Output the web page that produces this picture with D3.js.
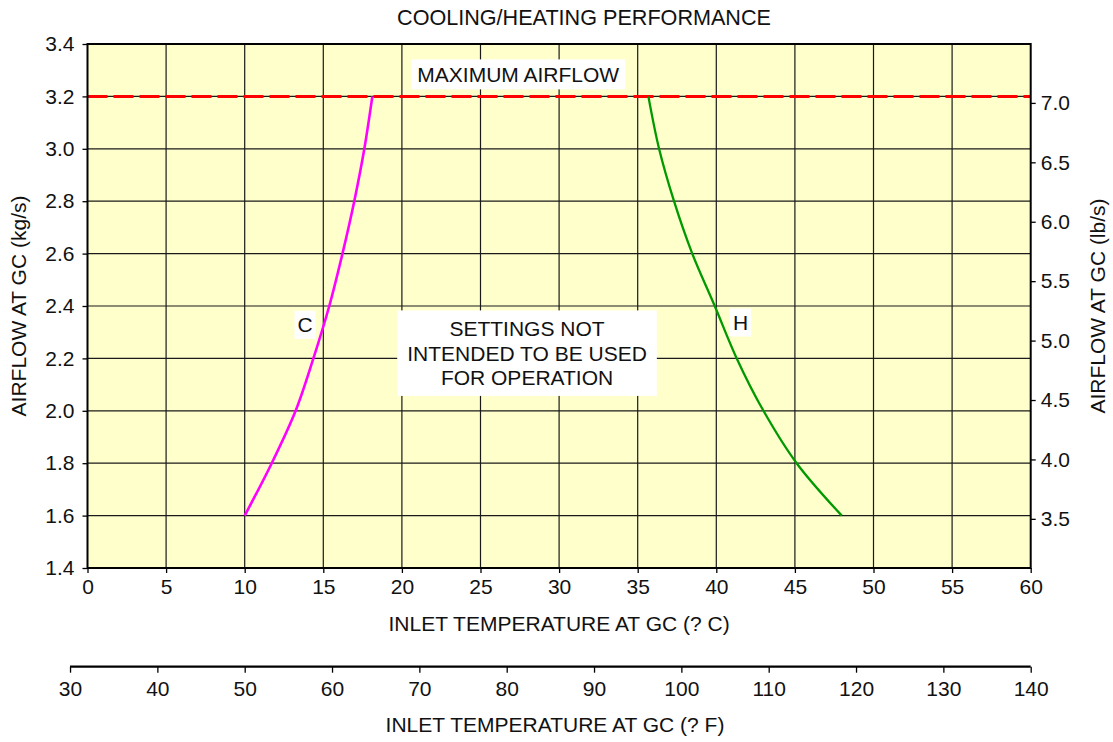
<!DOCTYPE html>
<html>
<head>
<meta charset="utf-8">
<script src="https://cdn.jsdelivr.net/npm/d3@7"></script>
<style>
  html, body { margin: 0; padding: 0; background: #ffffff; }
  svg text { font-family: "Liberation Sans", Arial, Helvetica, sans-serif; fill: #111; }
</style>
</head>
<body>
<svg id="chart" width="1113" height="742"></svg>
<script>
// Airflow levels (kg/s) at which both curves are sampled
const flowLevels = [1.6, 1.8, 2.0, 2.2, 2.4, 2.6, 2.8, 3.0, 3.2];
// Cooling limit curve "C": inlet temperature (°C) per flow level
const coolTemps = [10.0, 11.72, 13.24, 14.37, 15.38, 16.22, 16.97, 17.61, 18.12];
// Heating limit curve "H": inlet temperature (°C) per flow level
const heatTemps = [47.98, 45.11, 43.0, 41.3, 39.9, 38.47, 37.31, 36.36, 35.68];
// Maximum airflow (kg/s)
const maxFlow = 3.2;

// Axis ticks
const celsiusTicks = [0, 5, 10, 15, 20, 25, 30, 35, 40, 45, 50, 55, 60];
const fahrenheitTicks = [30, 40, 50, 60, 70, 80, 90, 100, 110, 120, 130, 140];
const kgTicks = [1.4, 1.6, 1.8, 2.0, 2.2, 2.4, 2.6, 2.8, 3.0, 3.2, 3.4];
const lbTicks = [3.5, 4.0, 4.5, 5.0, 5.5, 6.0, 6.5, 7.0];

const title = "COOLING/HEATING PERFORMANCE";
const xTitleC = "INLET TEMPERATURE AT GC (? C)";
const xTitleF = "INLET TEMPERATURE AT GC (? F)";
const yTitleKg = "AIRFLOW AT GC (kg/s)";
const yTitleLb = "AIRFLOW AT GC (lb/s)";
const noteLines = ["SETTINGS NOT", "INTENDED TO BE USED", "FOR OPERATION"];

const KG_TO_LB = 2.20462;
const cToF = c => c * 9 / 5 + 32;

const svg = d3.select("#chart");
const plot = { left: 87.5, right: 1030.7, top: 44, bottom: 568 };
const FS = 21;

const x = d3.scaleLinear().domain([0, 60]).range([plot.left, plot.right]);
const y = d3.scaleLinear().domain([1.4, 3.4]).range([plot.bottom, plot.top]);
const yLb = d3.scaleLinear().domain([1.4 * KG_TO_LB, 3.4 * KG_TO_LB]).range([plot.bottom, plot.top]);
const xF = d3.scaleLinear().domain([cToF(0), cToF(60)]).range([plot.left, plot.right]);

// Plot background
svg.append("rect")
  .attr("x", plot.left).attr("y", plot.top)
  .attr("width", plot.right - plot.left).attr("height", plot.bottom - plot.top)
  .attr("fill", "#ffffcc");

// Grid
const grid = svg.append("g").attr("stroke", "#1a1a1a").attr("stroke-width", 1.2);
grid.selectAll("line.v").data(celsiusTicks.slice(1, -1)).join("line")
  .attr("x1", d => x(d)).attr("x2", d => x(d))
  .attr("y1", plot.top).attr("y2", plot.bottom);
grid.selectAll("line.h").data(kgTicks.slice(1, -1)).join("line")
  .attr("y1", d => y(d)).attr("y2", d => y(d))
  .attr("x1", plot.left).attr("x2", plot.right);

// Maximum airflow line
svg.append("line")
  .attr("x1", x(0)).attr("x2", x(60))
  .attr("y1", y(maxFlow)).attr("y2", y(maxFlow))
  .attr("stroke", "#ff0000").attr("stroke-width", 3)
  .attr("stroke-dasharray", "20,6");

// Curves
const line = d3.line().curve(d3.curveCatmullRom.alpha(0.5));
svg.append("path")
  .attr("d", line(flowLevels.map((f, i) => [x(coolTemps[i]), y(f)])))
  .attr("fill", "none").attr("stroke", "#ff00ff").attr("stroke-width", 2.6);
svg.append("path")
  .attr("d", line(flowLevels.map((f, i) => [x(heatTemps[i]), y(f)])))
  .attr("fill", "none").attr("stroke", "#009900").attr("stroke-width", 2.3);

// Plot frame
svg.append("rect")
  .attr("x", plot.left).attr("y", plot.top)
  .attr("width", plot.right - plot.left).attr("height", plot.bottom - plot.top)
  .attr("fill", "none").attr("stroke", "#000").attr("stroke-width", 2);

function styleAxis(g) {
  g.select(".domain").remove();
  g.selectAll(".tick line").attr("stroke", "#000").attr("stroke-width", 1.3);
  g.selectAll(".tick text").attr("font-size", FS).attr("fill", "#111")
    .attr("font-family", "Liberation Sans, Arial, sans-serif");
}

// Left axis (kg/s)
svg.append("g").attr("transform", `translate(${plot.left},0)`)
  .call(d3.axisLeft(y).tickValues(kgTicks).tickFormat(d3.format(".1f")).tickSize(5).tickPadding(8))
  .call(styleAxis);

// Right axis (lb/s)
svg.append("g").attr("transform", `translate(${plot.right},0)`)
  .call(d3.axisRight(yLb).tickValues(lbTicks).tickFormat(d3.format(".1f")).tickSize(5).tickPadding(5))
  .call(styleAxis);

// Bottom axis (°C)
svg.append("g").attr("transform", `translate(0,${plot.bottom})`)
  .call(d3.axisBottom(x).tickValues(celsiusTicks).tickSize(5).tickPadding(6))
  .call(styleAxis);

// Secondary bottom axis (°F)
const fAxisY = 666.7;
const gF = svg.append("g").attr("transform", `translate(0,${fAxisY})`)
  .call(d3.axisBottom(xF).tickValues(fahrenheitTicks).tickSize(6).tickPadding(8));
gF.select(".domain").attr("stroke", "#000").attr("stroke-width", 2.2)
  .attr("d", `M${xF(30)},0H${xF(140)}`);
gF.selectAll(".tick line").attr("stroke", "#000").attr("stroke-width", 1.3);
gF.selectAll(".tick text").attr("font-size", FS).attr("fill", "#111")
  .attr("font-family", "Liberation Sans, Arial, sans-serif");

// Titles
svg.append("text").attr("x", 584).attr("y", 25).attr("text-anchor", "middle")
  .attr("font-size", 21.6).text(title);
svg.append("text").attr("x", (plot.left + plot.right) / 2).attr("y", 631).attr("text-anchor", "middle")
  .attr("font-size", FS).text(xTitleC);
svg.append("text").attr("x", 555).attr("y", 732).attr("text-anchor", "middle")
  .attr("font-size", FS).text(xTitleF);
svg.append("text").attr("transform", `translate(26,${(plot.top + plot.bottom) / 2}) rotate(-90)`)
  .attr("text-anchor", "middle").attr("font-size", FS).text(yTitleKg);
svg.append("text").attr("transform", `translate(1105,${(plot.top + plot.bottom) / 2}) rotate(-90)`)
  .attr("text-anchor", "middle").attr("font-size", FS).text(yTitleLb);

// Boxed annotation label helper
function boxedLabel(lines, cx, cy, padX, padY, lineH) {
  const g = svg.append("g");
  const rect = g.append("rect").attr("fill", "#ffffff");
  const t = g.append("text").attr("text-anchor", "middle").attr("font-size", FS);
  const top = cy - (lines.length * lineH) / 2;
  lines.forEach((s, i) => {
    t.append("tspan").attr("x", cx).attr("y", top + lineH * (i + 0.5) + FS * 0.36).text(s);
  });
  const bb = t.node().getBBox();
  const h = lines.length * lineH;
  rect.attr("x", bb.x - padX).attr("y", top - padY)
    .attr("width", bb.width + 2 * padX).attr("height", h + 2 * padY);
  return g;
}

boxedLabel(["MAXIMUM AIRFLOW"], x(27.4), y(3.284), 6, 3, 24);
boxedLabel(noteLines, x(27.96), y(2.22), 10, 6, 24.5);
boxedLabel(["C"], x(13.84), y(2.328), 3, 2, 24);
boxedLabel(["H"], x(41.54), y(2.337), 3, 2, 24);
</script>
</body>
</html>
